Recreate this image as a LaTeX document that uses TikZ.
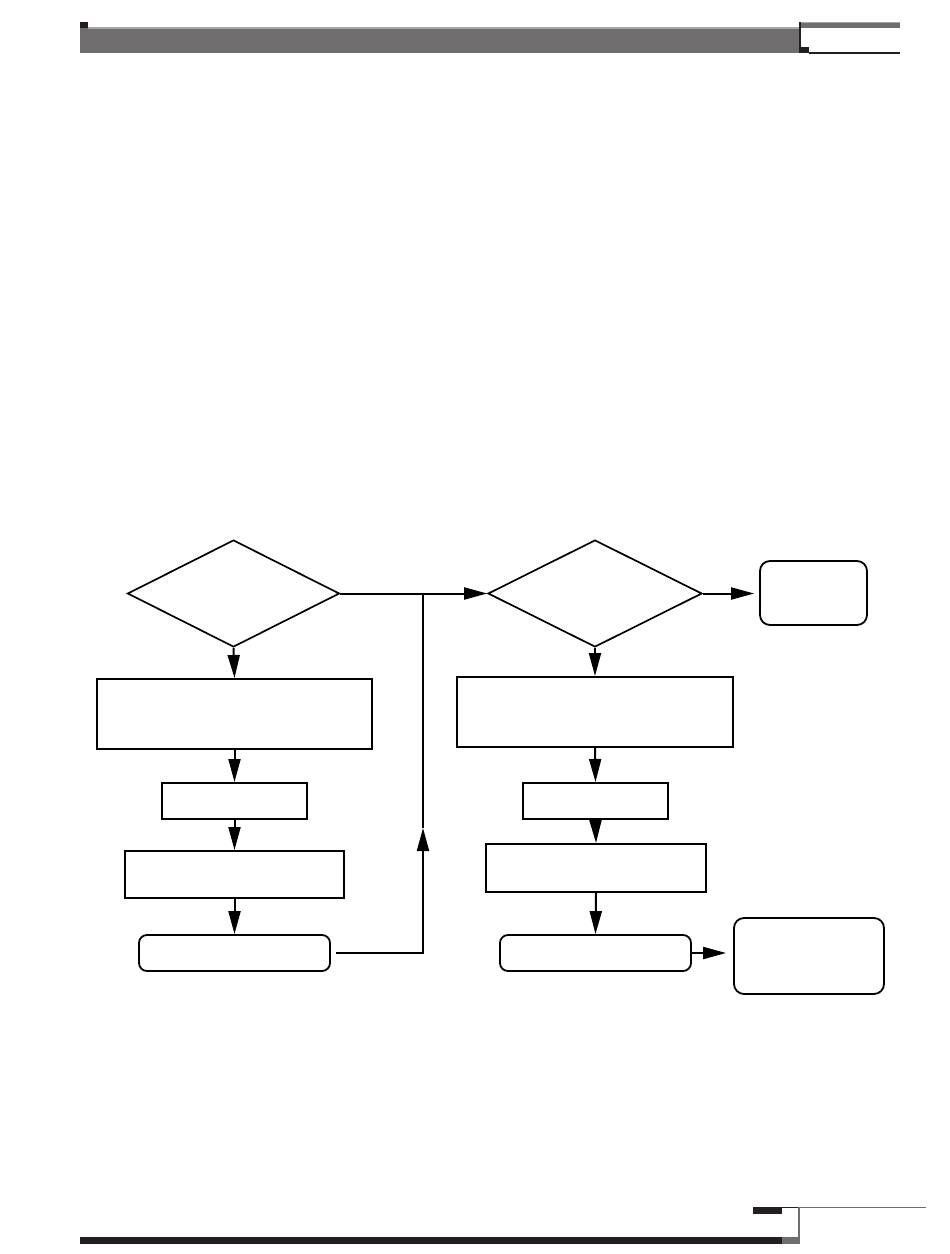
\documentclass[tikz,border=0pt]{standalone}
\usetikzlibrary{shapes.geometric,arrows.meta}
\definecolor{hdrgray}{HTML}{6F6D6D}
\definecolor{hdrlight}{HTML}{A8A6A6}
\definecolor{ink}{HTML}{231F20}
\tikzset{
  box/.style={draw=black, line width=2pt, rectangle, inner sep=0pt},
  rbox/.style={draw=black, line width=1.8pt, rectangle, rounded corners=8pt, inner sep=0pt},
  dec/.style={draw=black, line width=1.7pt, diamond, inner sep=0pt},
  flow/.style={draw=black, line width=2pt, -{Triangle[length=23pt,width=12pt]}},
  plain/.style={draw=black, line width=2pt}
}
\begin{document}
\begin{tikzpicture}[x=1pt,y=-1pt]
\useasboundingbox (0,0) rectangle (950,1254);
% header
\fill[hdrgray] (80,27) rectangle (799,53);
\fill[hdrlight] (88,27) rectangle (799,28.5);
\fill[ink] (80,22) rectangle (88,28);
\fill[ink] (799,22) rectangle (801,53);
\fill[hdrgray] (801,22) rectangle (900,28);
\fill[hdrlight] (801,22) rectangle (900,23);
\fill[ink] (801,47) rectangle (809,53);
\fill[ink] (809,52) rectangle (900,53.5);
% footer
\fill[ink] (753,1207) rectangle (782,1214);
\fill[ink] (782,1206.5) rectangle (799,1207.5);
\fill[hdrgray] (798,1207) rectangle (800,1244);
\fill[hdrgray] (800,1206.5) rectangle (926,1207.5);
\fill[ink] (80,1237) rectangle (782,1244);
\fill[hdrgray] (782,1237) rectangle (800,1244);
% flowchart nodes
\node[dec, minimum width=212pt, minimum height=107pt] (d1) at (233.5,593.5) {};
\node[dec, minimum width=214pt, minimum height=107pt] (d2) at (595,593.5) {};
\node[rbox, rounded corners=10pt, minimum width=107pt, minimum height=64pt] (t1) at (813.5,593) {};
\node[box, minimum width=275pt, minimum height=70pt] (a) at (234.5,714) {};
\node[box, minimum width=145pt, minimum height=36pt] (b) at (234.5,801) {};
\node[box, minimum width=219pt, minimum height=47pt] (c) at (234.5,874.5) {};
\node[rbox, minimum width=191pt, minimum height=36pt] (d) at (234.5,953) {};
\node[box, minimum width=276pt, minimum height=70pt] (e) at (595,712) {};
\node[box, minimum width=145pt, minimum height=36pt] (f) at (595.5,801) {};
\node[box, minimum width=220pt, minimum height=48pt] (g) at (596,868) {};
\node[rbox, minimum width=191pt, minimum height=36pt] (h) at (595.5,953) {};
\node[rbox, rounded corners=10pt, minimum width=150pt, minimum height=76pt] (i) at (809,956) {};
% junction coordinates
\coordinate (jt) at (423,593.5);
\coordinate (jm) at (423,828);
\coordinate (jb) at (423,953);
\coordinate (ds) at (336,953);
% connectors
\draw[flow] (d1.south) -- (a.north);
\draw[flow] (a.south) -- (b.north);
\draw[flow] (b.south) -- (c.north);
\draw[flow] (c.south) -- (d.north);
\draw[flow] (d1.east) -- (d2.west);
\draw[flow] (ds) -- (jb) -- (jm);
\draw[plain] (jm) -- (jt);
\draw[flow, shorten >=5pt] (d2.east) -- (d2.east -| t1.west);
\draw[flow] (d2.south) -- (e.north);
\draw[flow] (e.south) -- (f.north);
\draw[flow] (f.south) -- (g.north);
\draw[flow] (g.south) -- (h.north);
\draw[flow, shorten >=7pt] (h.east) -- (h.east -| i.west);
\end{tikzpicture}
\end{document}
